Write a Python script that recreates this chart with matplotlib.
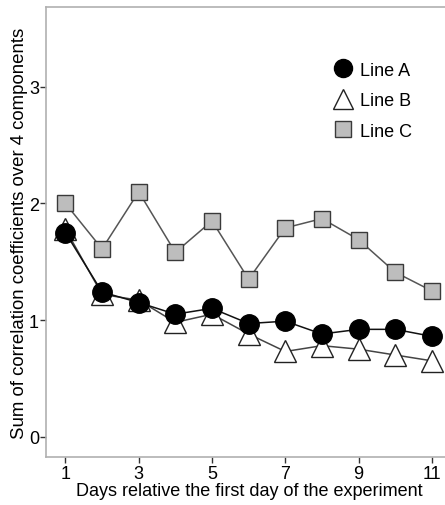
import matplotlib
matplotlib.use("Agg")
import matplotlib.pyplot as plt
from matplotlib.lines import Line2D

plt.rcParams['font.family'] = ['Liberation Sans', 'DejaVu Sans']

days = [1, 2, 3, 4, 5, 6, 7, 8, 9, 10, 11]
line_a = [1.75, 1.24, 1.15, 1.05, 1.10, 0.97, 0.99, 0.88, 0.92, 0.92, 0.86]
line_b = [1.78, 1.22, 1.17, 0.98, 1.05, 0.88, 0.73, 0.78, 0.75, 0.70, 0.65]
line_c = [2.00, 1.61, 2.10, 1.58, 1.85, 1.35, 1.79, 1.87, 1.69, 1.41, 1.25]
xticks = [1, 3, 5, 7, 9, 11]
yticks = [0, 1, 2, 3]

W, H = 445, 506
fig = plt.figure(figsize=(W / 100, H / 100), dpi=100)
left, right, top, bottom = 46, 452, 8, 458
ax = fig.add_axes([left / W, 1 - bottom / H, (right - left) / W, (bottom - top) / H])

sty_c = dict(marker='s', ms=11, mfc='#bdbdbd', mec='#3a3a3a', mew=1.0)
sty_b = dict(marker='^', ms=16, mfc='white', mec='#222222', mew=1.0)
sty_a = dict(marker='o', ms=14, mfc='black', mec='black')

ax.plot(days, line_c, color='#555555', lw=1.1, zorder=2, **sty_c)
ax.plot(days, line_b, color='#444444', lw=1.1, zorder=3, **sty_b)
ax.plot(days, line_a, color='#111111', lw=1.1, zorder=4, **sty_a)

ax.set_xlim(0.47, 11.55)
ax.set_ylim(-0.175, 3.685)
ax.set_xticks(xticks)
ax.set_yticks(yticks)
ax.tick_params(labelsize=13, length=4, width=1, color='#333333', pad=1)
ax.tick_params(axis='x', pad=2)

for s in ['left', 'top', 'bottom', 'right']:
    ax.spines[s].set_color('#b0b0b0')
    ax.spines[s].set_linewidth(1.2)

ax.set_xlabel('Days relative the first day of the experiment', fontsize=13, labelpad=0)
ax.set_ylabel('Sum of correlation coefficients over 4 components', fontsize=13.4, labelpad=1)

handles = [
    Line2D([], [], ls='none', marker='o', ms=13, mfc='black', mec='black'),
    Line2D([], [], ls='none', marker='^', ms=15, mfc='white', mec='#222222', mew=1.0),
    Line2D([], [], ls='none', marker='s', ms=11, mfc='#bdbdbd', mec='#3a3a3a', mew=1.0),
]
ax.legend(handles, ['Line A', 'Line B', 'Line C'],
          loc='upper left', bbox_to_anchor=(0.665, 0.915), frameon=False,
          fontsize=13, labelspacing=0.75, handletextpad=0.35, handlelength=1.2)

fig.savefig('out.png', dpi=100, facecolor='white')
